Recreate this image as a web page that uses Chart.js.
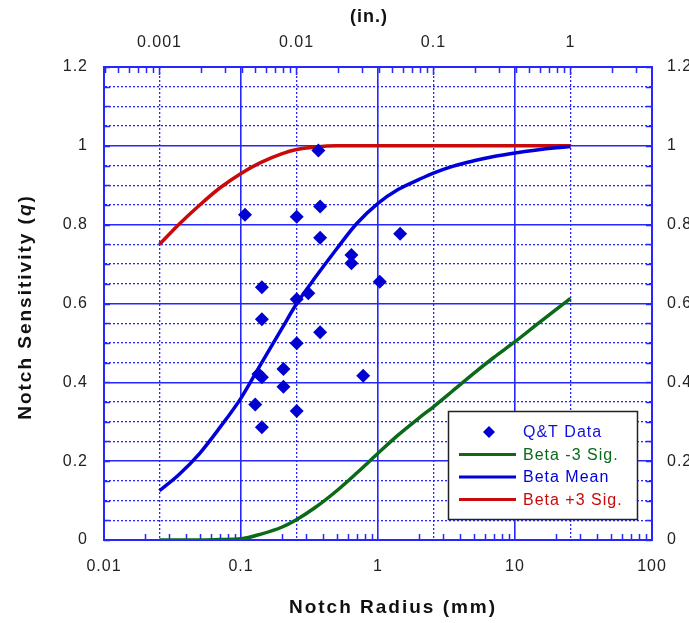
<!DOCTYPE html>
<html>
<head>
<meta charset="utf-8">
<title>Notch Sensitivity vs Notch Radius</title>
<script src="https://cdn.jsdelivr.net/npm/chart.js@4.4.1/dist/chart.umd.min.js"></script>
<style>
  html, body { margin: 0; padding: 0; background: #fff; }
  #chartDiv { width: 689px; height: 623px; }
</style>
</head>
<body>
<div id="chartDiv"><canvas id="myChart" width="689" height="623"></canvas></div>
<script>
// Q&T test data: notch radius (mm) and notch sensitivity q
const qtRadius = [0.107, 0.255, 0.367, 0.378, 0.378, 1.45, 1.03, 0.64, 0.64, 0.142, 0.255, 0.31,
                  0.142, 0.378, 0.255, 0.204, 0.134, 0.142, 0.78, 0.204, 0.127, 0.255, 0.142];
const qtSensitivity = [0.825, 0.82, 0.988, 0.846, 0.767, 0.777, 0.655, 0.723, 0.702, 0.641, 0.611, 0.626,
                       0.56, 0.527, 0.499, 0.434, 0.421, 0.413, 0.417, 0.389, 0.344, 0.327, 0.286];

// beta fit curves, read at these radii (mm)
const curveRadius = [0.0254, 0.035, 0.05, 0.07, 0.1, 0.14, 0.2, 0.25, 0.35, 0.5, 0.7,
                     1, 1.4, 2, 2.54, 3.5, 5, 7, 10, 14, 20, 25.4];
const betaMinus3 = [0, 0, 0, 0.001, 0.003, 0.015, 0.033, 0.05, 0.083, 0.125, 0.17,
                    0.22, 0.266, 0.31, 0.338, 0.378, 0.423, 0.463, 0.503, 0.543, 0.585, 0.613];
const betaMean = [0.125, 0.165, 0.22, 0.285, 0.36, 0.447, 0.538, 0.595, 0.667, 0.739, 0.803,
                  0.854, 0.889, 0.915, 0.931, 0.948, 0.962, 0.973, 0.982, 0.989, 0.995, 0.998];
const betaPlus3 = [0.75, 0.80, 0.85, 0.893, 0.93, 0.958, 0.98, 0.99, 0.997, 1, 1,
                   1, 1, 1, 1, 1, 1, 1, 1, 1, 1, 1];

// tick labels
const mmTickLabels = [0.01, 0.1, 1, 10, 100];
const inchTickLabels = [0.001, 0.01, 0.1, 1];
const sensTickLabels = [0, 0.2, 0.4, 0.6, 0.8, 1, 1.2];

const MM_PER_INCH = 25.4;
const gridBlue = '#2626ff';
const fontFamily = '"Liberation Sans", Arial, Helvetica, sans-serif';
const labelFont = { family: fontFamily, size: 16 };

function toPoints(xs, ys) {
    return xs.map((x, i) => ({ x: x, y: ys[i] }));
}

function isPow10(v) {
    const l = Math.log10(v);
    return Math.abs(l - Math.round(l)) < 1e-6;
}

function inList(list, v) {
    return list.some(t => Math.abs(t - v) < 1e-6 * Math.max(1, Math.abs(t)) + 1e-9);
}

// 1..9 x 10^n ticks between min and max
function logTicks(min, max) {
    const ticks = [];
    for (let e = Math.floor(Math.log10(min)); e <= Math.ceil(Math.log10(max)); e++) {
        for (let k = 1; k < 10; k++) {
            const v = parseFloat((k * Math.pow(10, e)).toPrecision(6));
            if (v >= min * 0.9999 && v <= max * 1.0001) ticks.push({ value: v });
        }
    }
    return ticks;
}

function sensTicks() {
    const ticks = [];
    for (let i = 0; i <= 24; i++) ticks.push({ value: Math.round(i * 5) / 100 });
    return ticks;
}

// short tick marks pointing into the plot
const innerTicks = {
    id: 'innerTicks',
    beforeDatasetsDraw(chart) {
        const { ctx, chartArea, scales } = chart;
        ctx.save();
        ctx.strokeStyle = gridBlue;
        ctx.lineWidth = 1.5;
        ctx.beginPath();
        scales.x.ticks.forEach(t => {
            if (isPow10(t.value)) return;
            const px = Math.round(scales.x.getPixelForValue(t.value)) + 0.5;
            ctx.moveTo(px, chartArea.bottom);
            ctx.lineTo(px, chartArea.bottom - 6);
        });
        scales.x2.ticks.forEach(t => {
            const px = Math.round(scales.x2.getPixelForValue(t.value)) + 0.5;
            ctx.moveTo(px, chartArea.top);
            ctx.lineTo(px, chartArea.top + (isPow10(t.value) ? 8 : 6));
        });
        scales.y.ticks.forEach(t => {
            const py = Math.round(scales.y.getPixelForValue(t.value)) + 0.5;
            ctx.moveTo(chartArea.left, py);
            ctx.lineTo(chartArea.left + 6, py);
            ctx.moveTo(chartArea.right, py);
            ctx.lineTo(chartArea.right - 6, py);
        });
        ctx.stroke();
        ctx.restore();
    }
};

// legend box inside the plot, and the axis titles
const boxLegend = {
    id: 'boxLegend',
    afterDraw(chart) {
        const ctx = chart.ctx;
        const box = { left: 448.5, top: 411.5, right: 637.5, bottom: 519.5 };
        ctx.save();
        ctx.fillStyle = '#fff';
        ctx.fillRect(box.left, box.top, box.right - box.left, box.bottom - box.top);
        ctx.strokeStyle = '#222';
        ctx.lineWidth = 1.5;
        ctx.strokeRect(box.left, box.top, box.right - box.left, box.bottom - box.top);

        ctx.font = '16px ' + fontFamily;
        ctx.letterSpacing = '1px';
        ctx.textBaseline = 'middle';
        ctx.textAlign = 'left';
        chart.data.datasets.forEach((ds, i) => {
            const y = 432 + i * 22.5;
            if (ds.showLine) {
                ctx.strokeStyle = ds.borderColor;
                ctx.lineWidth = 3;
                ctx.beginPath();
                ctx.moveTo(459, y);
                ctx.lineTo(516, y);
                ctx.stroke();
            } else {
                ctx.fillStyle = ds.backgroundColor;
                ctx.beginPath();
                ctx.moveTo(489, y - 6);
                ctx.lineTo(495, y);
                ctx.lineTo(489, y + 6);
                ctx.lineTo(483, y);
                ctx.closePath();
                ctx.fill();
            }
            ctx.fillStyle = ds.label === 'Q&T Data' ? '#1010e0' : ds.borderColor;
            ctx.fillText(ds.label, 523, y + 1);
        });

        // axis titles
        ctx.fillStyle = '#111';
        ctx.textAlign = 'center';
        ctx.font = 'bold 19px ' + fontFamily;
        ctx.letterSpacing = '2px';
        ctx.fillText('Notch Radius (mm)', 393, 608);
        ctx.letterSpacing = '1px';
        ctx.font = 'bold 18px ' + fontFamily;
        ctx.fillText('(in.)', 369, 17);

        // rotated y title with italic q
        ctx.translate(26, 307);
        ctx.rotate(-Math.PI / 2);
        ctx.letterSpacing = '2px';
        const parts = [
            ['Notch Sensitivity (', 'bold 19px '],
            ['q', 'italic bold 19px '],
            [')', 'bold 19px ']
        ];
        let total = 0;
        parts.forEach(p => { ctx.font = p[1] + fontFamily; total += ctx.measureText(p[0]).width; });
        let x = -total / 2;
        ctx.textAlign = 'left';
        parts.forEach(p => {
            ctx.font = p[1] + fontFamily;
            ctx.fillText(p[0], x, 0);
            x += ctx.measureText(p[0]).width;
        });
        ctx.restore();
    }
};

// tick labels look slightly spaced out in the original
const spacedLabels = {
    id: 'spacedLabels',
    beforeDraw(chart) { chart.ctx.letterSpacing = '1px'; },
    afterDraw(chart) { chart.ctx.letterSpacing = '0px'; }
};

const ctx = document.getElementById('myChart');

const myChart = new Chart(ctx, {
    type: 'scatter',
    data: {
        datasets: [
            {
                label: 'Q&T Data',
                data: toPoints(qtRadius, qtSensitivity),
                showLine: false,
                pointStyle: 'rectRot',
                pointRadius: 7,
                backgroundColor: '#0000d0',
                borderColor: '#0000d0',
                borderWidth: 0
            },
            {
                label: 'Beta -3 Sig.',
                data: toPoints(curveRadius, betaMinus3),
                showLine: true,
                pointRadius: 0,
                borderColor: '#0b6a17',
                borderWidth: 3.5,
                cubicInterpolationMode: 'monotone'
            },
            {
                label: 'Beta Mean',
                data: toPoints(curveRadius, betaMean),
                showLine: true,
                pointRadius: 0,
                borderColor: '#0000d8',
                borderWidth: 3.5,
                cubicInterpolationMode: 'monotone'
            },
            {
                label: 'Beta +3 Sig.',
                data: toPoints(curveRadius, betaPlus3),
                showLine: true,
                pointRadius: 0,
                borderColor: '#c80a0a',
                borderWidth: 3.5,
                cubicInterpolationMode: 'monotone'
            }
        ]
    },
    options: {
        responsive: false,
        animation: false,
        layout: { padding: 0 },
        plugins: {
            legend: { display: false },
            tooltip: { enabled: false }
        },
        scales: {
            x: {
                type: 'logarithmic',
                position: 'bottom',
                min: 0.01,
                max: 100,
                afterBuildTicks: s => { s.ticks = logTicks(0.01, 100); },
                afterFit: s => { s.height = 83; },
                ticks: {
                    autoSkip: false,
                    maxRotation: 0,
                    padding: 17,
                    color: '#222',
                    font: labelFont,
                    callback: v => inList(mmTickLabels, v) ? String(v) : ''
                },
                grid: {
                    drawTicks: false,
                    lineWidth: 1.6,
                    color: c => (c.tick && isPow10(c.tick.value)) ? gridBlue : 'rgba(0,0,0,0)'
                },
                border: { color: gridBlue, width: 2 }
            },
            x2: {
                type: 'logarithmic',
                position: 'top',
                min: 0.01 / MM_PER_INCH,
                max: 100 / MM_PER_INCH,
                afterBuildTicks: s => { s.ticks = logTicks(0.01 / MM_PER_INCH, 100 / MM_PER_INCH); },
                afterFit: s => { s.height = 67; },
                ticks: {
                    autoSkip: false,
                    maxRotation: 0,
                    padding: 15,
                    color: '#222',
                    font: labelFont,
                    callback: v => inList(inchTickLabels, v) ? String(v) : ''
                },
                grid: {
                    drawTicks: false,
                    lineWidth: 1.3,
                    color: c => (c.tick && isPow10(c.tick.value)) ? gridBlue : 'rgba(0,0,0,0)'
                },
                border: {
                    color: gridBlue,
                    width: 2,
                    dash: c => (c.tick && isPow10(c.tick.value)) ? [2, 2] : []
                }
            },
            y: {
                type: 'linear',
                position: 'left',
                min: 0,
                max: 1.2,
                afterBuildTicks: s => { s.ticks = sensTicks(); },
                afterFit: s => { s.width = 104; },
                ticks: {
                    autoSkip: false,
                    padding: 16,
                    color: '#222',
                    font: labelFont,
                    callback: v => inList(sensTickLabels, v) ? String(+v.toFixed(2)) : ''
                },
                grid: {
                    drawTicks: false,
                    color: gridBlue,
                    lineWidth: c => (c.tick && inList(sensTickLabels, c.tick.value)) ? 1.6 : 1.3
                },
                border: {
                    color: gridBlue,
                    width: 2,
                    dash: c => (c.tick && !inList(sensTickLabels, c.tick.value)) ? [2, 2] : []
                }
            },
            y2: {
                type: 'linear',
                position: 'right',
                min: 0,
                max: 1.2,
                afterBuildTicks: s => { s.ticks = sensTicks(); },
                afterFit: s => { s.width = 37; },
                ticks: {
                    autoSkip: false,
                    padding: 15,
                    color: '#222',
                    font: labelFont,
                    callback: v => inList(sensTickLabels, v) ? String(+v.toFixed(2)) : ''
                },
                grid: { drawTicks: false, drawOnChartArea: false },
                border: { color: gridBlue, width: 2 }
            }
        }
    },
    plugins: [spacedLabels, innerTicks, boxLegend]
});
</script>
</body>
</html>
